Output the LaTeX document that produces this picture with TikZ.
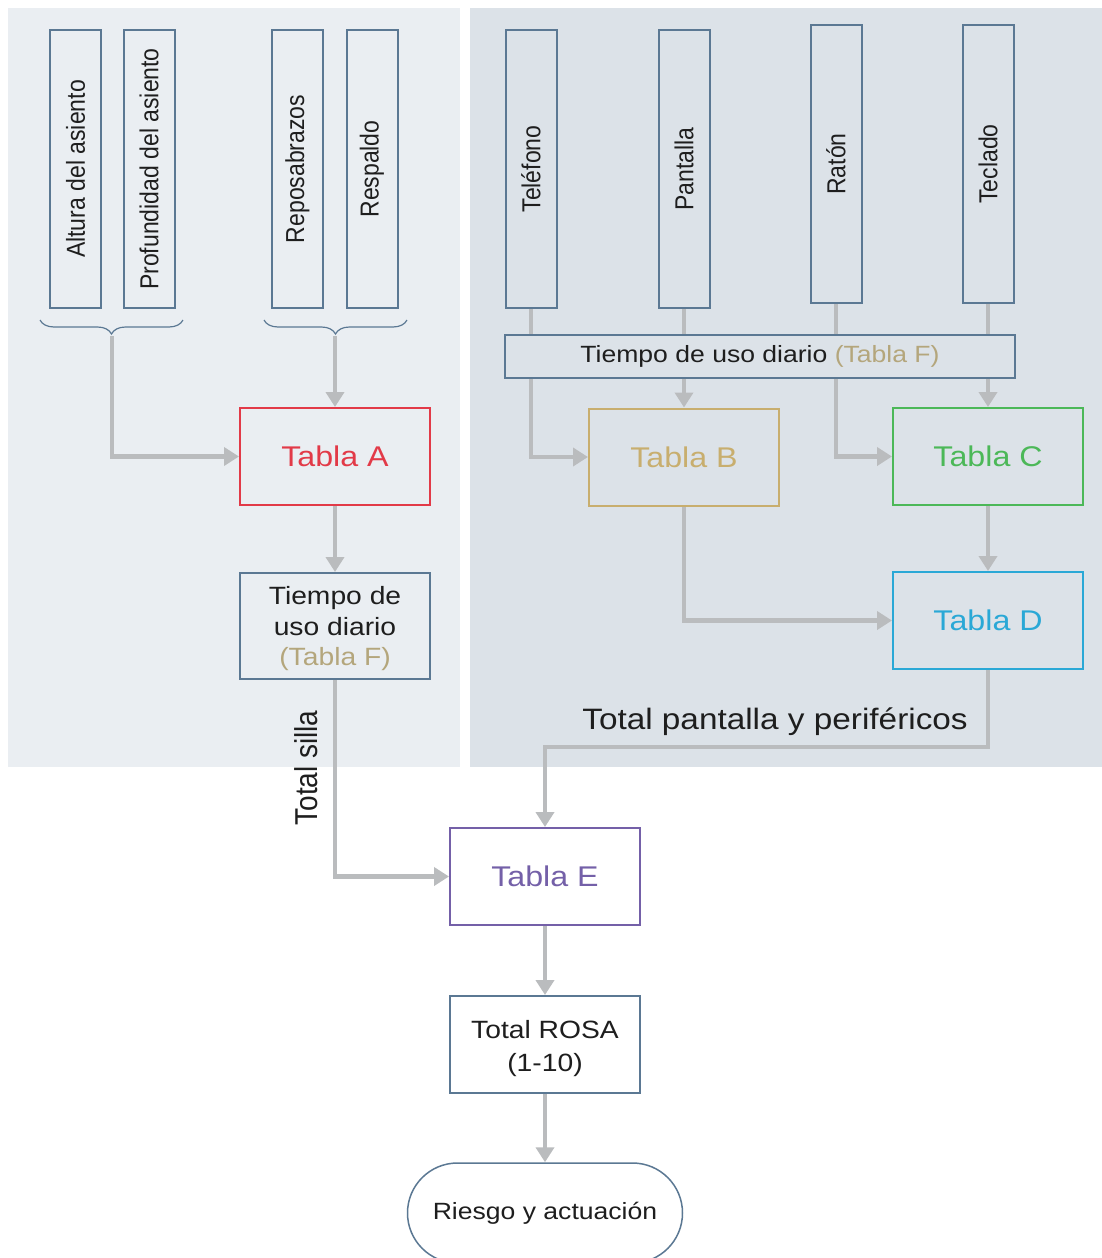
\documentclass[tikz,border=0pt]{standalone}
\usepackage{fontspec}
\setmainfont{Liberation Sans}
\usetikzlibrary{arrows.meta,decorations.pathreplacing,shapes.misc}
\pgfdeclarelayer{bg}
\pgfdeclarelayer{lines}
\pgfsetlayers{bg,lines,main}
\definecolor{leftbg}{HTML}{EAEEF2}
\definecolor{rightbg}{HTML}{DCE2E8}
\definecolor{bord}{HTML}{5B7893}
\definecolor{conn}{HTML}{BABCBE}
\definecolor{redA}{HTML}{E23A48}
\definecolor{tanB}{HTML}{C8AE6E}
\definecolor{greenC}{HTML}{4CB858}
\definecolor{cyanD}{HTML}{2AA8D6}
\definecolor{purpE}{HTML}{7460A8}
\definecolor{tabF}{HTML}{B4A67C}
\definecolor{txt}{HTML}{1E1E1E}
\newcommand\hs[1]{\scalebox{1.13}[1]{#1}}
\newcommand\vs[1]{\scalebox{1.13}[1]{\rotatebox{90}{#1}}}
\newcommand\fs[1]{\fontsize{#1}{#1}\selectfont}
\tikzset{
  vbox/.style={draw=bord, line width=2pt, minimum width=51pt, minimum height=278pt, inner sep=0pt, text=txt},
  tbox/.style={draw=#1, line width=2pt, minimum width=190pt, minimum height=97pt, inner sep=0pt, text=#1},
  arr/.style={conn, line width=4.5pt, -{Triangle[width=18pt,length=15pt]}},
  brc/.style={bord, line width=1.2pt, decorate, decoration={brace, amplitude=14pt}}
}
\begin{document}
\begin{tikzpicture}[x=1pt,y=-1pt]
\useasboundingbox (0,0) rectangle (1102,1258);
\clip (0,0) rectangle (1102,1258);
\begin{pgfonlayer}{bg}
  \fill[white] (0,0) rectangle (1102,1258);
  \fill[leftbg] (8,8) rectangle (460,767);
  \fill[rightbg] (470,8) rectangle (1102,767);
\end{pgfonlayer}
% left vertical boxes
\node[vbox, fill=leftbg] (alt) at (75.5,169) {\vs{\fs{23}Altura del asiento}};
\node[vbox, fill=leftbg] (prof) at (149,169) {\vs{\fs{23}Profundidad del asiento}};
\node[vbox, fill=leftbg] (repo) at (297.5,169) {\vs{\fs{23}Reposabrazos}};
\node[vbox, fill=leftbg] (resp) at (372,169) {\vs{\fs{23}Respaldo}};
% right vertical boxes
\node[vbox, fill=rightbg] (tel) at (531,169) {\vs{\fs{23}Teléfono}};
\node[vbox, fill=rightbg] (pan) at (684,169) {\vs{\fs{23}Pantalla}};
\node[vbox, fill=rightbg] (rat) at (836,164) {\vs{\fs{23}Ratón}};
\node[vbox, fill=rightbg] (tec) at (988,164) {\vs{\fs{23}Teclado}};
% braces
\draw[brc] (183,320) -- (40,320);
\draw[brc] (407,320) -- (264,320);
\coordinate (bl) at (112,336);
\coordinate (br) at (335,336);
% bar
\node[draw=bord, line width=2pt, fill=rightbg, minimum width=510pt, minimum height=43pt, inner sep=0pt, text=txt] (bar) at (760,356.5)
  {\hs{\fs{23.5}Tiempo de uso diario \textcolor{tabF}{(Tabla F)}}};
% tables
\node[tbox=redA, fill=leftbg] (A) at (335,456.5) {\hs{\fs{28.5}Tabla A}};
\node[draw=bord, line width=2pt, fill=leftbg, minimum width=190pt, minimum height=106pt, inner sep=0pt, text=txt] (TF) at (335,626)
  {\raisebox{-4pt}[\height][\depth]{\hs{\fs{25}\begin{tabular}{@{}c@{}}Tiempo de\\[5pt] uso diario\\[5pt] \textcolor{tabF}{(Tabla F)}\end{tabular}}}};
\node[tbox=tanB, fill=rightbg] (B) at (684,457) {\hs{\fs{28.5}Tabla B}};
\node[tbox=greenC, fill=rightbg] (C) at (988,456.5) {\hs{\fs{28.5}Tabla C}};
\node[tbox=cyanD, fill=rightbg] (D) at (988,620.5) {\hs{\fs{28.5}Tabla D}};
\node[tbox=purpE, fill=white] (E) at (545,876.5) {\hs{\fs{28.5}Tabla E}};
\node[draw=bord, line width=2pt, fill=white, minimum width=190pt, minimum height=97pt, inner sep=0pt, text=txt] (R) at (545,1044.5)
  {\raisebox{-5pt}[\height][\depth]{\hs{\fs{25}\begin{tabular}{@{}c@{}}Total ROSA\\[7pt] (1-10)\end{tabular}}}};
\node[draw=bord, line width=1.5pt, fill=white, rounded rectangle, minimum width=275pt, minimum height=100pt, inner sep=0pt, text=txt] (Z) at (545,1213)
  {\hs{\fs{23.5}Riesgo y actuación}};
% labels
\node[text=txt, inner sep=0pt] (lsilla) at (306,768) {\vs{\fs{28}Total silla}};
\node[text=txt, inner sep=0pt] (lpant) at (775,722) {\hs{\fs{29.5}Total pantalla y periféricos}};
\coordinate (turn) at (0,747);
% connectors
\begin{pgfonlayer}{lines}
  \draw[arr] (bl) |- (A.west);
  \draw[arr] (br) -- (A.north);
  \draw[arr] (A.south) -- (TF.north);
  \draw[arr] (TF.south) |- (E.west);
  \draw[arr] (tel.south) |- (B.west);
  \draw[arr] (pan.south) -- (B.north);
  \draw[arr] (rat.south) |- (C.west);
  \draw[arr] (tec.south) -- (C.north);
  \draw[arr] (C.south) -- (D.north);
  \draw[arr] (B.south) |- (D.west);
  \draw[arr] (D.south) -- (D.south |- turn) -| (E.north);
  \draw[arr] (E.south) -- (R.north);
  \draw[arr] (R.south) -- (Z.north);
\end{pgfonlayer}
\end{tikzpicture}
\end{document}
